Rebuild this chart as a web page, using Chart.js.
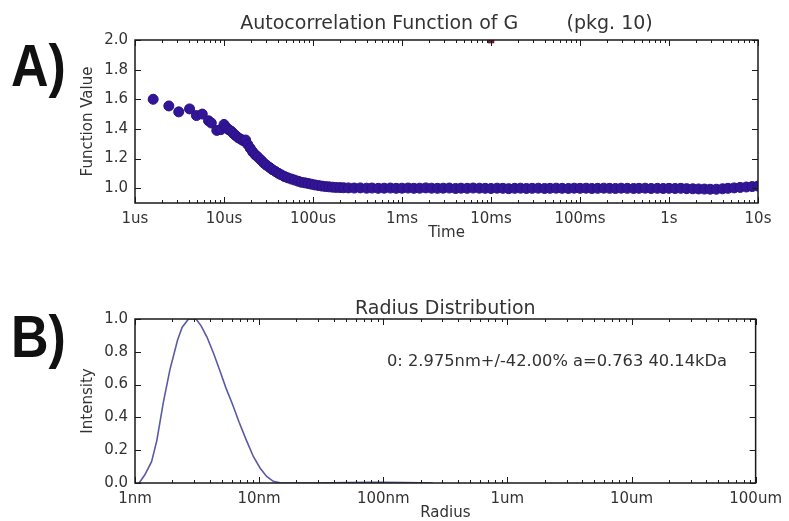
<!DOCTYPE html>
<html lang="en">
<head>
  <meta charset="UTF-8">
  <title>DLS Autocorrelation and Radius Distribution</title>
  <script src="https://cdn.jsdelivr.net/npm/chart.js"></script>
  <style>
    body {
      margin: 0;
      width: 789px;
      height: 521px;
      overflow: hidden;
      background: #fff;
      position: relative;
      font-family: "DejaVu Sans", sans-serif;
    }
    .panel {
      position: absolute;
      left: 0;
    }
    .tag {
      position: absolute;
      left: 11px;
      font-family: "Liberation Sans", Arial, sans-serif;
      font-weight: bold;
      font-size: 52px;
      line-height: 1;
      color: #111;
      transform: scaleY(1.15);
      transform-origin: top left;
    }
  </style>
</head>
<body>
  <div class="tag" style="top:35px">A)</div>
  <div class="tag" style="top:306px">B)</div>
  <div class="panel" style="top:0"><canvas id="acfChart" width="789" height="250"></canvas></div>
  <div class="panel" style="top:260px"><canvas id="radiusChart" width="789" height="261"></canvas></div>

  <script>
    // --- panel A: autocorrelation (time in microseconds) ---
    const timeUs = [
      1.6, 2.4, 3.1, 4.1, 4.9, 5.7, 6.7, 7.2, 8.3, 9.2, 10.0, 10.6,
      11.3, 12.0, 12.7, 13.5, 14.5, 15.5, 16.5, 17.5, 18.5, 19.7,
      21, 22.5, 24, 26, 28, 30, 32.5, 35, 38, 41,
      44, 48, 52, 57, 62, 68, 74, 81, 88, 96,
      105, 115, 126, 138, 151, 165, 180, 200,
      220, 250, 290, 340, 400, 460, 540, 630, 740, 860,
      1000, 1170, 1360, 1580, 1850, 2150, 2500, 2900, 3400, 4000, 4600, 5400, 6300, 7400, 8600,
      10000, 11700, 13600, 15800, 18500, 21500, 25000, 29000, 34000, 40000, 46000, 54000, 63000, 74000, 86000,
      1e5, 1.17e5, 1.36e5, 1.58e5, 1.85e5, 2.15e5, 2.5e5, 2.9e5, 3.4e5, 4e5, 4.6e5, 5.4e5, 6.3e5, 7.4e5, 8.6e5,
      1e6, 1.17e6, 1.36e6, 1.58e6, 1.85e6, 2.15e6, 2.5e6, 2.9e6, 3.4e6, 4e6, 4.6e6, 5.4e6, 6.3e6, 7.4e6, 8.6e6, 1e7
    ];
    const acfValues = [
      1.60, 1.555, 1.515, 1.535, 1.49, 1.50, 1.455, 1.44, 1.39, 1.395, 1.43, 1.41,
      1.395, 1.385, 1.37, 1.355, 1.34, 1.33, 1.32, 1.325, 1.295, 1.27,
      1.245, 1.225, 1.21, 1.19, 1.17, 1.155, 1.14, 1.125, 1.112, 1.10,
      1.09, 1.078, 1.07, 1.062, 1.055, 1.047, 1.04, 1.036, 1.032, 1.027,
      1.022, 1.018, 1.014, 1.011, 1.009, 1.007, 1.005, 1.004,
      1.003, 1.002, 1.001, 1.002, 1.000, 1.001, 0.999, 1.000, 1.001, 0.999,
      1.000, 1.001, 0.999, 1.000, 1.002, 1.000, 0.999, 1.000, 1.001, 0.998, 1.000, 0.999, 1.001, 1.000, 0.999,
      0.998, 1.000, 0.999, 0.997, 0.999, 1.000, 0.998, 0.999, 1.000, 0.998, 0.999, 1.000, 0.999, 0.998, 1.000,
      0.999, 1.000, 0.998, 0.999, 1.000, 0.999, 0.998, 1.000, 0.999, 0.998, 0.999, 1.000, 0.998, 0.999, 0.998,
      0.999, 0.998, 0.999, 0.997, 0.996, 0.995, 0.994, 0.993, 0.993, 0.996, 0.999, 1.002, 1.005, 1.008, 1.011, 1.014
    ];
    // single off-scale marker at the top edge
    const outlierTime = [10000];
    const outlierValue = [2.0];

    const timeTicks = [1, 10, 100, 1e3, 1e4, 1e5, 1e6, 1e7];
    const timeTickLabels = ['1us', '10us', '100us', '1ms', '10ms', '100ms', '1s', '10s'];
    const acfTicks = [1.0, 1.2, 1.4, 1.6, 1.8, 2.0];

    // --- panel B: radius distribution (radius in nm) ---
    const radiusNm = [1.08, 1.2, 1.36, 1.5, 1.69, 1.91, 2.2, 2.4, 2.7, 3.1, 3.4, 3.8, 4.3, 4.8, 5.4, 6.1, 6.9, 7.9, 9.0, 10.2, 11.5, 13, 15, 20, 30, 50, 80, 100, 150, 200, 250];
    const intensity = [0, 0.05, 0.13, 0.26, 0.49, 0.69, 0.87, 0.95, 1.0, 1.0, 0.96, 0.89, 0.79, 0.69, 0.58, 0.48, 0.37, 0.26, 0.16, 0.09, 0.04, 0.01, 0, 0, 0, 0.002, 0.004, 0.005, 0.003, 0.001, 0];

    const radiusTicks = [1, 10, 100, 1e3, 1e4, 1e5];
    const radiusTickLabels = ['1nm', '10nm', '100nm', '1um', '10um', '100um'];
    const intensityTicks = [0.0, 0.2, 0.4, 0.6, 0.8, 1.0];

    const fitNote = '0: 2.975nm+/-42.00% a=0.763 40.14kDa';

    const textColor = '#333';
    Chart.defaults.font.family = '"DejaVu Sans", sans-serif';
    Chart.defaults.color = textColor;

    // matplotlib-like frame with inward ticks on all four sides
    const frameTicks = {
      id: 'frameTicks',
      afterDatasetsDraw(chart) {
        const { ctx, chartArea: a, scales: { x, y } } = chart;
        ctx.save();
        ctx.strokeStyle = '#1a1a1a';
        ctx.lineWidth = 1;
        ctx.beginPath();
        x.ticks.forEach((t, i) => {
          const px = Math.round(x.getPixelForValue(t.value)) + 0.5;
          ctx.moveTo(px, a.bottom); ctx.lineTo(px, a.bottom - 6);
          ctx.moveTo(px, a.top); ctx.lineTo(px, a.top + 6);
          if (i < x.ticks.length - 1) {
            for (let m = 2; m < 10; m++) {
              const mx = Math.round(x.getPixelForValue(t.value * m)) + 0.5;
              ctx.moveTo(mx, a.bottom); ctx.lineTo(mx, a.bottom - 3);
              ctx.moveTo(mx, a.top); ctx.lineTo(mx, a.top + 3);
            }
          }
        });
        y.ticks.forEach(t => {
          const py = Math.round(y.getPixelForValue(t.value)) + 0.5;
          ctx.moveTo(a.left, py); ctx.lineTo(a.left + 6, py);
          ctx.moveTo(a.right, py); ctx.lineTo(a.right - 6, py);
        });
        ctx.stroke();
        ctx.lineWidth = 1.5;
        ctx.strokeRect(a.left, a.top, a.right - a.left, a.bottom - a.top);
        ctx.restore();
      }
    };

    function logAxis(vals, labels, min, max, title, height, titlePad) {
      return {
        type: 'logarithmic',
        min: min,
        max: max,
        grid: { display: false, drawTicks: false },
        border: { display: false },
        afterBuildTicks: s => { s.ticks = vals.map(v => ({ value: v })); },
        afterFit: s => { s.height = height; },
        ticks: {
          autoSkip: false,
          maxRotation: 0,
          padding: 7,
          font: { size: 15 },
          color: textColor,
          callback: (v, i) => labels[i]
        },
        title: {
          display: true,
          text: title,
          font: { size: 15, lineHeight: 1 },
          color: textColor,
          padding: { top: 0, bottom: titlePad }
        }
      };
    }

    function valueAxis(vals, min, max, title) {
      return {
        min: min,
        max: max,
        grid: { display: false, drawTicks: false },
        border: { display: false },
        afterBuildTicks: s => { s.ticks = vals.map(v => ({ value: v })); },
        afterFit: s => { s.width = 59; },
        ticks: {
          padding: 7,
          font: { size: 15 },
          color: textColor,
          callback: v => Number(v).toFixed(1)
        },
        title: {
          display: true,
          text: title,
          font: { size: 15, lineHeight: 1 },
          color: textColor,
          padding: { top: 5, bottom: 0 }
        }
      };
    }

    new Chart(document.getElementById('acfChart').getContext('2d'), {
      type: 'scatter',
      data: {
        datasets: [{
          label: 'G',
          data: timeUs.map((t, i) => ({ x: t, y: acfValues[i] })),
          backgroundColor: 'rgb(50, 21, 152)',
          borderColor: 'rgb(42, 17, 128)',
          borderWidth: 1,
          pointRadius: 5,
          clip: 0
        }, {
          label: 'outlier',
          data: outlierTime.map((t, i) => ({ x: t, y: outlierValue[i] })),
          pointStyle: 'rect',
          backgroundColor: '#7a1c2c',
          borderColor: '#5a1020',
          pointRadius: 4,
          clip: 0
        }]
      },
      options: {
        responsive: false,
        animation: false,
        layout: { padding: { left: 76, right: 31, top: 0, bottom: 0 } },
        plugins: {
          legend: { display: false },
          tooltip: { enabled: false },
          title: {
            display: true,
            fullSize: false,
            text: 'Autocorrelation Function of G        (pkg. 10)',
            color: textColor,
            font: { size: 19, weight: 'normal', lineHeight: 1 },
            padding: { top: 15, bottom: 6 }
          }
        },
        scales: {
          x: logAxis(timeTicks, timeTickLabels, 1, 1e7, 'Time', 47, 9),
          y: valueAxis(acfTicks, 0.9, 2.0, 'Function Value')
        }
      },
      plugins: [frameTicks]
    });

    const fitLabel = {
      id: 'fitLabel',
      afterDraw(chart) {
        const { ctx, chartArea: a } = chart;
        ctx.save();
        ctx.fillStyle = textColor;
        ctx.font = '16.3px "DejaVu Sans", sans-serif';
        ctx.textBaseline = 'middle';
        ctx.fillText(fitNote, a.left + 0.406 * (a.right - a.left), a.top + 0.26 * (a.bottom - a.top));
        ctx.restore();
      }
    };

    new Chart(document.getElementById('radiusChart').getContext('2d'), {
      type: 'line',
      data: {
        datasets: [{
          label: 'Intensity',
          data: radiusNm.map((r, i) => ({ x: r, y: intensity[i] })),
          borderColor: '#5a5aa6',
          borderWidth: 1.6,
          pointRadius: 0,
          tension: 0,
          fill: false
        }]
      },
      options: {
        responsive: false,
        animation: false,
        layout: { padding: { left: 76, right: 31, top: 0, bottom: 0 } },
        plugins: {
          legend: { display: false },
          tooltip: { enabled: false },
          title: {
            display: true,
            fullSize: false,
            text: 'Radius Distribution',
            color: textColor,
            font: { size: 19, weight: 'normal', lineHeight: 1 },
            padding: { top: 40, bottom: 0 }
          }
        },
        scales: {
          x: logAxis(radiusTicks, radiusTickLabels, 1, 1e5, 'Radius', 38, 0),
          y: valueAxis(intensityTicks, 0, 1.0, 'Intensity')
        }
      },
      plugins: [frameTicks, fitLabel]
    });
  </script>
</body>
</html>
